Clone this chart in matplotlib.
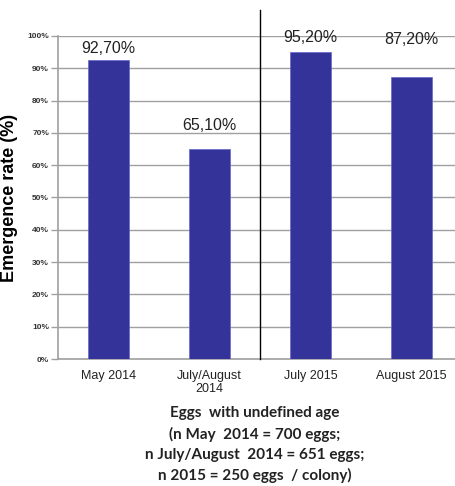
import matplotlib
matplotlib.use("Agg")
import matplotlib.pyplot as plt

categories = ["May 2014", "July/August\n2014", "July 2015", "August 2015"]
values = [92.7, 65.1, 95.2, 87.2]
value_labels = ["92,70%", "65,10%", "95,20%", "87,20%"]
yticks = list(range(0, 101, 10))
ytick_labels = [f"{t}%" for t in yticks]

# layout: vertical centre of each value label (in axis units)
label_centres = [96.0, 72.4, 99.4, 98.8]

fig = plt.figure(figsize=(4.55, 4.86), dpi=100)
ax = fig.add_axes([58/455, 1-359/486, 1-58/455, (359-36)/486])

x = list(range(len(categories)))
ax.bar(x, values, width=0.4, color="#333399", edgecolor="#6666cc", linewidth=0.5, zorder=3)
for xi, yc, lab in zip(x, label_centres, value_labels):
    ax.text(xi, yc, lab, ha="center", va="center", fontsize=11.5,
            family="Liberation Sans", color="#222222", zorder=5)

ax.set_xlim(-0.5, 3.43)
ax.set_ylim(0, 100)
ax.set_yticks(yticks)
ax.set_yticklabels(ytick_labels, fontsize=6, family="Liberation Sans", fontweight="bold", color="#333333")
ax.yaxis.grid(True, color="#a0a0a0", linewidth=1.0, zorder=0)
ax.set_axisbelow(True)
ax.tick_params(axis="y", length=5, color="#a0a0a0", width=1.0, pad=1.5)
ax.tick_params(axis="x", length=0, pad=8)
ax.set_xticks(x)
ax.set_xticklabels(categories, fontsize=9, family="Liberation Sans", color="#222222", linespacing=1.1)
for s in ["top", "right"]:
    ax.spines[s].set_visible(False)
ax.spines["left"].set_color("#a0a0a0")
ax.spines["bottom"].set_color("#a0a0a0")
ax.spines["left"].set_linewidth(1.2)
ax.spines["bottom"].set_linewidth(1.2)

ax.axvline(1.5, ymin=0, ymax=(359-10)/(359-36), color="black", linewidth=1.0, clip_on=False, zorder=4)

ax.set_ylabel("Emergence rate (%)", fontsize=13, fontweight="bold", family="Liberation Sans")
ax.yaxis.set_label_coords(-(58-18)/397, 0.5)

fig.text(255/455, 1-406/486, "Eggs  with undefined age\n(n May  2014 = 700 eggs;\nn July/August  2014 = 651 eggs;\nn 2015 = 250 eggs  / colony)",
         ha="center", va="top", fontsize=11, fontweight="bold", family="Lato", linespacing=1.55, color="#222222")
fig.savefig("out.png", dpi=100)
